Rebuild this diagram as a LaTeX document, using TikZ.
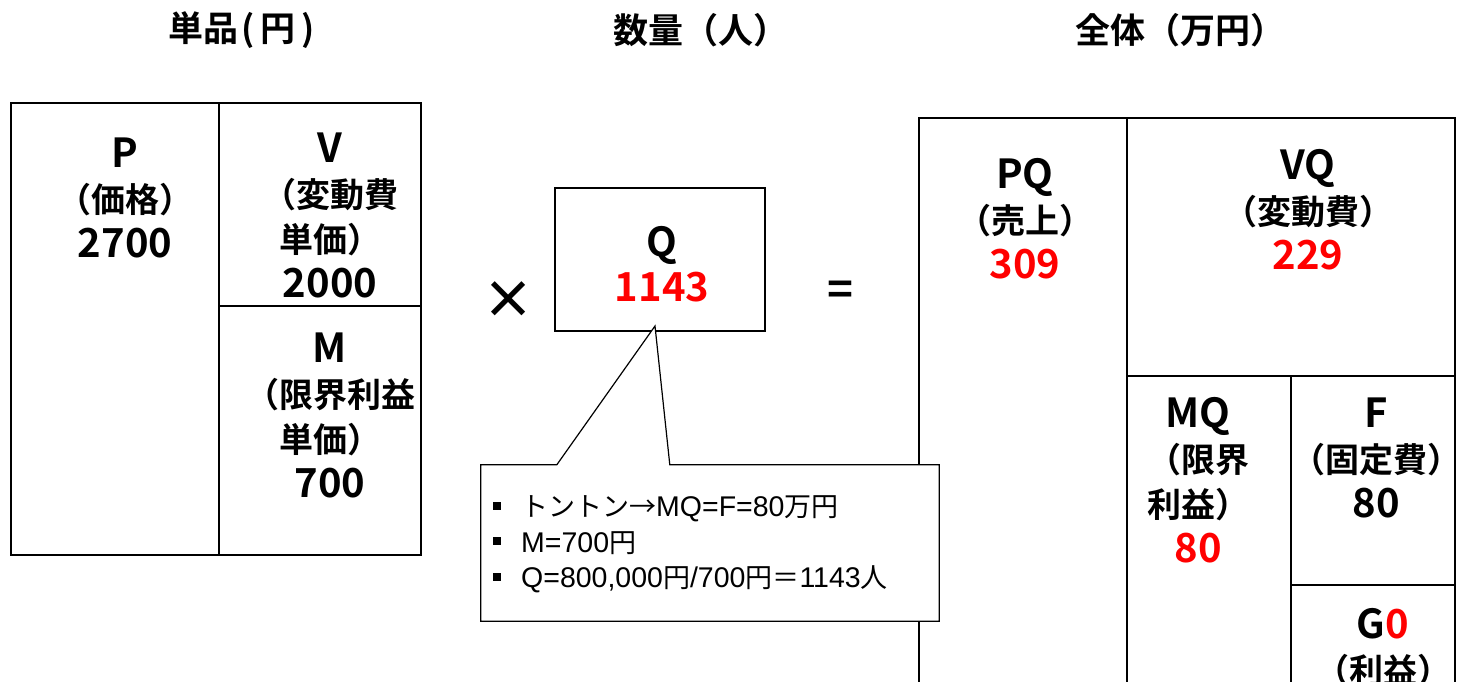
\documentclass[tikz,border=0pt]{standalone}
\usepackage{fontspec}
\setmainfont{Noto Sans CJK JP}[BoldFont={* Bold}]
\newfontfamily\lib{Liberation Sans}
\usetikzlibrary{calc}
\newcommand\Lt{\fontsize{40}{45}\selectfont}
\newcommand\Ct{\fontsize{34}{45}\selectfont}
\newcommand\A[1]{{\lib\fontsize{28.5}{35.5}\selectfont #1}}
\definecolor{vred}{RGB}{255,0,0}
\newcommand\bul{\rule[7pt]{8pt}{8pt}\hspace{20pt}}
\begin{document}
\begin{tikzpicture}[x=1pt,y=-1pt,
  cell/.style={draw, line width=1.5pt, inner sep=0pt},
  lbl/.style={align=center, font=\bfseries\fontsize{34}{45}\selectfont, inner sep=0pt},
  ttl/.style={font=\bfseries\fontsize{35}{40}\selectfont, inner sep=0pt},
  callf/.style={draw, line width=1.2pt, fill=white}]
\useasboundingbox (0,0) rectangle (1457,682);
\fill[white] (0,0) rectangle (1457,682);
% titles
\node[ttl] (t1) at (242,30) {単品\hspace{3pt}(\hspace{6pt}円\hspace{6pt})};
\node[ttl] (t2) at (701,30) {数量（人）};
\node[ttl] (t3) at (1180,30) {全体（万円）};
% left box
\node[cell, minimum width=208pt, minimum height=452pt] (P) at (115,329) {};
\node[cell, minimum width=202pt, minimum height=203pt] (V) at (320,204.5) {};
\node[cell, minimum width=202pt, minimum height=249pt] (M) at (320,430.5) {};
\node[lbl] (Pt) at (125,198) {{\Lt P}\\{\Ct （価格）}\\{\Lt 2700}};
\node[lbl] (Vt) at (330,215.5) {{\Lt V}\\{\Ct （変動費}\\{\Ct 単価）}\\{\Lt 2000}};
\node[lbl] (Mt) at (330,415) {{\Lt M}\\{\Ct （限界利益}\\{\Ct 単価）}\\{\Lt 700}};
% operators
\node[lbl, font=\bfseries\fontsize{52}{52}\selectfont] (times) at (508,300) {×};
\node[lbl, font=\bfseries\fontsize{44}{44}\selectfont] (eq) at (840,293) {=};
% Q box
\node[cell, minimum width=210pt, minimum height=143pt] (Q) at (660,259.5) {};
\node[lbl] (Qt) at (662,264.5) {{\Lt Q}\\{\Lt\color{vred}1143}};
% right box
\node[cell, minimum width=208pt, minimum height=582pt] (PQ) at (1023,409) {};
\node[cell, minimum width=328pt, minimum height=258pt] (VQ) at (1291,247) {};
\node[cell, minimum width=164pt, minimum height=324pt] (MQ) at (1209,538) {};
\node[cell, minimum width=164pt, minimum height=209pt] (F) at (1373,480.5) {};
\node[cell, minimum width=164pt, minimum height=115pt] (G) at (1373,642.5) {};
\node[lbl] (PQt) at (1025,219) {{\Lt PQ}\\{\Ct （売上）}\\{\Lt\color{vred}309}};
\node[lbl] (VQt) at (1308,209.5) {{\Lt VQ}\\{\Ct （変動費）}\\{\Lt\color{vred}229}};
\node[lbl] (MQt) at (1198,480.5) {{\Lt MQ}\\{\Ct （限界}\\{\Ct 利益）}\\{\Lt\color{vred}80}};
\node[lbl] (Ft) at (1376,458) {{\Lt F}\\{\Ct （固定費）}\\{\Lt 80}};
\node[lbl] (Gt) at (1383,647.5) {{\Lt G{\color{vred}0}}\\{\Ct （利益）}};
% callout
\node[minimum width=458pt, minimum height=156pt, inner sep=0pt] (call) at (710,543) {};
\coordinate (tip) at (655,326);
\draw[callf] (call.north west) -- ($(call.north west)+(76,0)$) -- (tip)
  -- ($(call.north west)+(189,0)$) -- (call.north east) -- (call.south east)
  -- (call.south west) -- cycle;
\node[anchor=west, align=left, inner sep=0pt, font=\fontsize{27}{35.5}\selectfont] (calltext) at (493,544.5)
  {\bul トントン→\A{MQ=F=80}万円\\\bul \A{M=700}円\\\bul \A{Q=800,000}円\A{/700}円＝\A{1143}人};
\end{tikzpicture}
\end{document}
